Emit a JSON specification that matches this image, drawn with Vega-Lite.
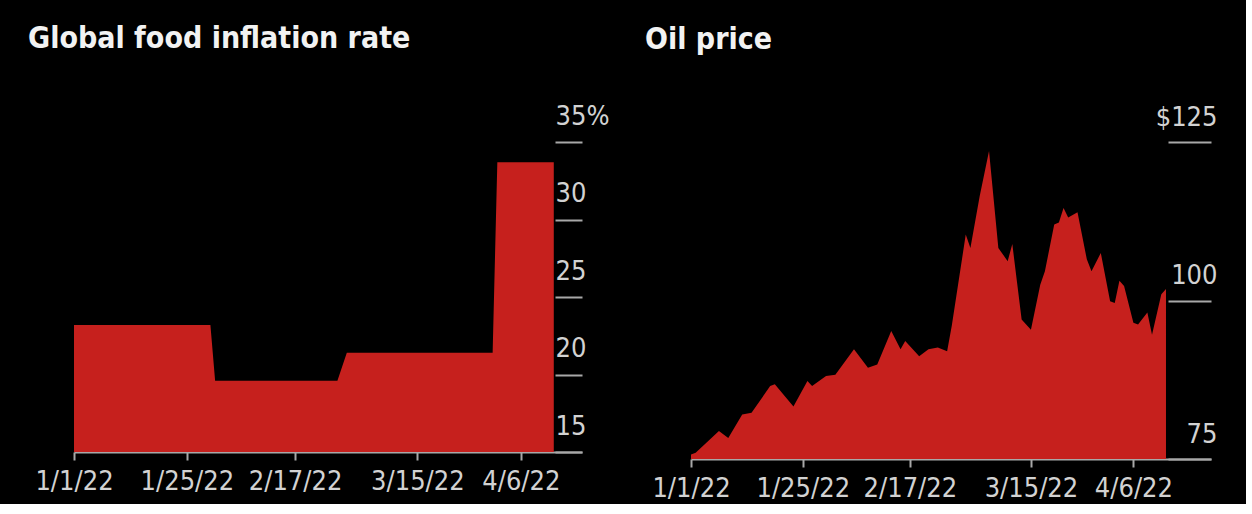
{
  "$schema": "https://vega.github.io/schema/vega-lite/v6.json",
  "background": "#000000",
  "padding": {"left": 28, "top": 24, "right": 29, "bottom": 3},
  "spacing": 36,
  "config": {
    "view": {"stroke": null},
    "font": "DejaVu Sans Condensed, Roboto, sans-serif",
    "title": {
      "font": "DejaVu Sans Condensed, Roboto, sans-serif",
      "fontSize": 30,
      "fontWeight": "bold",
      "color": "#f2f2f2",
      "anchor": "start",
      "frame": "group",
      "baseline": "alphabetic",
      "offset": 48
    },
    "axis": {
      "grid": false,
      "title": null,
      "domainColor": "#a8a8a8",
      "domainWidth": 2,
      "tickColor": "#a8a8a8",
      "tickWidth": 2,
      "labelColor": "#d2d2d2",
      "labelFont": "DejaVu Sans Condensed, Roboto, sans-serif",
      "labelFontSize": 27,
      "labelFlush": false,
      "labelOverlap": false,
      "labelBound": false
    }
  },
  "datasets": {
    "food": [
      {"date": "2022-01-01T00:00", "rate": 23.2},
      {"date": "2022-01-30T00:00", "rate": 23.2},
      {"date": "2022-01-31T00:00", "rate": 19.6},
      {"date": "2022-02-26T00:00", "rate": 19.6},
      {"date": "2022-02-28T00:00", "rate": 21.4},
      {"date": "2022-03-31T00:00", "rate": 21.4},
      {"date": "2022-04-01T00:00", "rate": 33.7},
      {"date": "2022-04-13T00:00", "rate": 33.7}
    ],
    "oil": [
      {"date": "2022-01-01T00:00", "price": 75.7},
      {"date": "2022-01-02T00:00", "price": 76.0},
      {"date": "2022-01-07T00:00", "price": 79.4},
      {"date": "2022-01-09T00:00", "price": 78.3},
      {"date": "2022-01-12T00:00", "price": 82.0},
      {"date": "2022-01-14T00:00", "price": 82.3},
      {"date": "2022-01-18T00:00", "price": 86.5},
      {"date": "2022-01-19T00:00", "price": 86.8},
      {"date": "2022-01-23T00:00", "price": 83.3},
      {"date": "2022-01-26T00:00", "price": 87.3},
      {"date": "2022-01-27T00:00", "price": 86.5},
      {"date": "2022-01-30T00:00", "price": 88.1},
      {"date": "2022-02-01T00:00", "price": 88.3},
      {"date": "2022-02-05T00:00", "price": 92.3},
      {"date": "2022-02-08T00:00", "price": 89.4},
      {"date": "2022-02-10T00:00", "price": 89.9},
      {"date": "2022-02-13T00:00", "price": 95.2},
      {"date": "2022-02-15T00:00", "price": 92.3},
      {"date": "2022-02-16T00:00", "price": 93.6},
      {"date": "2022-02-19T00:00", "price": 91.2},
      {"date": "2022-02-21T00:00", "price": 92.3},
      {"date": "2022-02-23T00:00", "price": 92.6},
      {"date": "2022-02-25T00:00", "price": 92.0},
      {"date": "2022-02-26T00:00", "price": 96.0},
      {"date": "2022-03-01T00:00", "price": 110.4},
      {"date": "2022-03-02T00:00", "price": 108.3},
      {"date": "2022-03-04T00:00", "price": 116.5},
      {"date": "2022-03-06T00:00", "price": 123.6},
      {"date": "2022-03-08T00:00", "price": 108.3},
      {"date": "2022-03-10T00:00", "price": 106.2},
      {"date": "2022-03-11T00:00", "price": 108.9},
      {"date": "2022-03-13T00:00", "price": 97.0},
      {"date": "2022-03-15T00:00", "price": 95.4},
      {"date": "2022-03-17T00:00", "price": 102.5},
      {"date": "2022-03-18T00:00", "price": 104.6},
      {"date": "2022-03-20T00:00", "price": 112.0},
      {"date": "2022-03-21T00:00", "price": 112.3},
      {"date": "2022-03-22T00:00", "price": 114.6},
      {"date": "2022-03-23T00:00", "price": 113.1},
      {"date": "2022-03-25T00:00", "price": 113.9},
      {"date": "2022-03-27T00:00", "price": 106.5},
      {"date": "2022-03-28T00:00", "price": 104.6},
      {"date": "2022-03-30T00:00", "price": 107.5},
      {"date": "2022-04-01T00:00", "price": 99.9},
      {"date": "2022-04-02T00:00", "price": 99.6},
      {"date": "2022-04-03T00:00", "price": 103.1},
      {"date": "2022-04-04T00:00", "price": 102.3},
      {"date": "2022-04-06T00:00", "price": 96.5},
      {"date": "2022-04-07T00:00", "price": 96.2},
      {"date": "2022-04-09T00:00", "price": 98.1},
      {"date": "2022-04-10T00:00", "price": 94.6},
      {"date": "2022-04-12T00:00", "price": 101.0},
      {"date": "2022-04-13T00:00", "price": 101.8}
    ]
  },
  "hconcat": [
    {
      "width": 508,
      "height": 310,
      "title": {"text": "Global food inflation rate", "dx": -46},
      "data": {"name": "food"},
      "mark": {"type": "area", "color": "#c6201d", "opacity": 1, "clip": true},
      "encoding": {
        "x": {
          "field": "date",
          "type": "temporal",
          "scale": {"domain": [{"year": 2022, "month": 1, "date": 1}, {"year": 2022, "month": 4, "date": 19}]},
          "axis": {
            "values": [
              {"year": 2022, "month": 1, "date": 1},
              {"year": 2022, "month": 1, "date": 25},
              {"year": 2022, "month": 2, "date": 17},
              {"year": 2022, "month": 3, "date": 15},
              {"year": 2022, "month": 4, "date": 6}
            ],
            "format": "%-m/%-d/%y",
            "tickSize": 8,
            "labelPadding": 8
          }
        },
        "y": {
          "field": "rate",
          "type": "quantitative",
          "scale": {"domain": [15, 35], "zero": false},
          "axis": {
            "orient": "right",
            "offset": -27,
            "domain": false,
            "values": [15, 20, 25, 30, 35],
            "tickSize": 27,
            "labelPadding": -27,
            "labelAlign": "left",
            "labelBaseline": "alphabetic",
            "labelOffset": -18,
            "labelExpr": "datum.value == 35 ? '35%' : datum.label"
          }
        }
      }
    },
    {
      "width": 520,
      "height": 317,
      "title": {"text": "Oil price", "dx": -46},
      "data": {"name": "oil"},
      "mark": {"type": "area", "color": "#c6201d", "opacity": 1, "clip": true},
      "encoding": {
        "x": {
          "field": "date",
          "type": "temporal",
          "scale": {"domain": [{"year": 2022, "month": 1, "date": 1}, {"year": 2022, "month": 4, "date": 22, "hours": 16}]},
          "axis": {
            "values": [
              {"year": 2022, "month": 1, "date": 1},
              {"year": 2022, "month": 1, "date": 25},
              {"year": 2022, "month": 2, "date": 17},
              {"year": 2022, "month": 3, "date": 15},
              {"year": 2022, "month": 4, "date": 6}
            ],
            "format": "%-m/%-d/%y",
            "tickSize": 8,
            "labelPadding": 8
          }
        },
        "y": {
          "field": "price",
          "type": "quantitative",
          "scale": {"domain": [75, 125], "zero": false},
          "axis": {
            "orient": "right",
            "offset": -43,
            "domain": false,
            "values": [75, 100, 125],
            "tickSize": 43,
            "labelPadding": 6,
            "labelAlign": "right",
            "labelBaseline": "alphabetic",
            "labelOffset": -17,
            "labelExpr": "datum.value == 125 ? '$125' : datum.label"
          }
        }
      }
    }
  ]
}
